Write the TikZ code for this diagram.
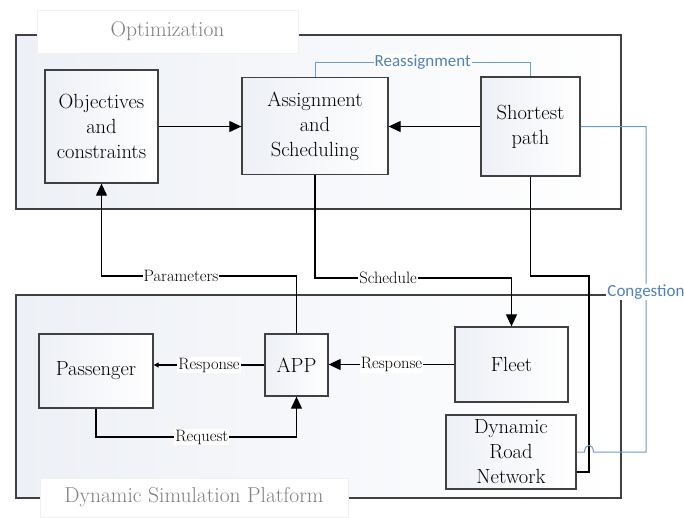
\documentclass[tikz,border=0pt]{standalone}
\usepackage{fontspec}
\newfontfamily\calib{Carlito}
\usetikzlibrary{arrows.meta}
\definecolor{edge}{RGB}{64,64,64}
\definecolor{lblue}{RGB}{110,155,200}
\definecolor{tblue}{RGB}{79,129,189}
\definecolor{shadec}{RGB}{237,240,246}
\definecolor{titlegray}{RGB}{128,128,128}
\begin{document}
\begin{tikzpicture}[x=1pt,y=-1pt,
 box/.style={draw=edge,line width=1.3pt,left color=shadec,right color=white,align=center,font=\rmfamily\fontsize{20.5}{25}\selectfont,inner sep=0pt},
 frame/.style={draw=edge,line width=1.5pt,left color=shadec,right color=white},
 conn/.style={line width=1.2pt,black},
 arr/.style={conn,-{Triangle[length=12pt,width=11pt]}},
 sarr/.style={conn,-{Triangle[length=5pt,width=5pt]}},
 lbl/.style={fill=white,inner sep=1pt,font=\rmfamily\fontsize{16.5}{16.5}\selectfont},
 blbl/.style={fill=white,inner sep=1pt,text=tblue,font=\calib\fontsize{17}{17}\selectfont},
 bconn/.style={line width=1pt,lblue},
 titlebox/.style={fill=white,draw=gray!12,minimum height=43pt,text=titlegray,font=\rmfamily\fontsize{21.5}{21.5}\selectfont}
]
\useasboundingbox[fill=white] (0,0) rectangle (684,517);
% frames
\path[frame] (16,35) rectangle (621,209);
\path[frame] (16,295) rectangle (621,498);
\node[titlebox,minimum width=261pt] (optt) at (167.5,31.5) {Optimization};
\node[titlebox,minimum width=308pt,minimum height=39pt] (dynt) at (194,497.5) {Dynamic Simulation Platform};
% boxes
\node[box,minimum width=113pt,minimum height=113pt] (obj) at (101.5,126.5) {Objectives\\and\\constraints};
\node[box,minimum width=146pt,minimum height=97pt] (asg) at (315,126) {Assignment\\and\\Scheduling};
\node[box,minimum width=99pt,minimum height=99pt] (sp) at (530.5,126.5) {Shortest\\path};
\node[box,minimum width=114pt,minimum height=74pt] (pas) at (96,371) {Passenger};
\node[box,minimum width=63pt,minimum height=62pt] (app) at (296.5,365) {APP};
\node[box,minimum width=113pt,minimum height=75pt] (flt) at (511.5,364.5) {Fleet};
\node[box,minimum width=130pt,minimum height=74pt] (drn) at (511,452) {Dynamic\\Road\\Network};
% helper coordinates
\coordinate (c276) at (0,276);
\coordinate (c278) at (0,278);
\coordinate (c62) at (0,62);
\coordinate (c437) at (0,437);
\coordinate (c452) at (0,452);
\coordinate (c472) at (0,472);
% connectors
\draw[arr] (obj.east) -- (obj.east -| asg.west);
\draw[arr] (sp.west) -- (sp.west -| asg.east);
\draw[arr] (app.north) -- (app.north |- c276) -| node[lbl,pos=0.296] {Parameters} (obj.south);
\draw[arr] (asg.south) -- (asg.south |- c278) -| node[lbl,pos=0.186] {Schedule} (flt.north);
\draw[arr] (flt.west) -- node[lbl] {Response} (flt.west -| app.east);
\draw[sarr] (app.west) -- node[lbl] {Response} (app.west -| pas.east);
\draw[arr] (pas.south) -- (pas.south |- c437) -| node[lbl,pos=0.264] {Request} (app.south);
\draw[conn] (sp.south) -- (sp.south |- c276) -- (589,276) -- (589,472) -- (drn.east |- c472);
\draw[bconn] (asg.north) -- (asg.north |- c62) -| node[blbl,pos=0.25] {Reassignment} (sp.north);
\draw[bconn] (sp.east) -- (646,126.5) -- (646,452) -- (593.5,452)
  .. controls (593,443) and (585,443) .. (584.5,452) -- (drn.east |- c452);
\node[blbl] (cong) at (646,292) {Congestion};
\end{tikzpicture}
\end{document}
